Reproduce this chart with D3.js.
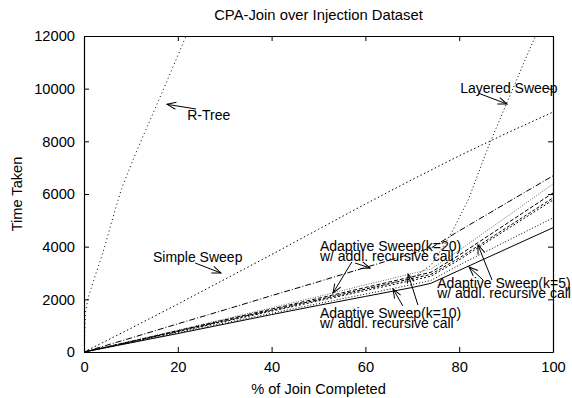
<!DOCTYPE html>
<html>
<head>
<meta charset="utf-8">
<script src="https://cdn.jsdelivr.net/npm/d3@7"></script>
<style>
body { margin: 0; background: #fff; }
svg { font-family: "Liberation Sans", Arial, sans-serif; }
.axis path, .axis line { stroke: #000; }
.axis text { font-size: 14.7px; fill: #000; }
</style>
</head>
<body>
<svg id="chart" width="572" height="398"></svg>
<script>
// values
var pct = [0, 10, 20, 30, 40, 50, 60, 70, 74, 80, 90, 100];

var rtreeX = [0, 0.3, 0.8, 2, 4, 6, 8, 10, 12, 17, 22, 25];
var rtreeY = [0, 1500, 2000, 2700, 3750, 5000, 6200, 7100, 7950, 10000, 12100, 13400];

var layeredX = [0, 10, 20, 30, 40, 50, 60, 70, 74, 78, 82, 86, 90, 96, 100];
var layeredY = [0, 390, 790, 1180, 1580, 1980, 2380, 2800, 3300, 4400, 5800, 7700, 9400, 11900, 13500];

var simpleX = [0, 10, 20, 30, 40, 50, 60, 70, 80, 90, 100];
var simpleY = [0, 900, 1820, 2760, 3700, 4660, 5620, 6550, 7450, 8300, 9110];

var adaptK5R  = [0, 350, 700, 1060, 1420, 1770, 2110, 2450, 2610, 3100, 3910, 4720];
var adaptK5   = [0, 360, 730, 1100, 1470, 1840, 2200, 2560, 2720, 3300, 4200, 5090];
var adaptK10R = [0, 380, 770, 1160, 1550, 1940, 2330, 2720, 2880, 3500, 4640, 5770];
var adaptK10  = [0, 390, 790, 1190, 1590, 1990, 2390, 2790, 2950, 3570, 4710, 5850];
var adaptK20R = [0, 400, 810, 1220, 1630, 2040, 2450, 2860, 3030, 3680, 4860, 6040];
var adaptK20  = [0, 410, 830, 1250, 1680, 2110, 2550, 2980, 3150, 3860, 5120, 6380];
var adaptive  = [0, 530, 1070, 1600, 2140, 2670, 3210, 3740, 3950, 4600, 5650, 6690];

var xTicks = [0, 20, 40, 60, 80, 100];
var yTicks = [0, 2000, 4000, 6000, 8000, 10000, 12000];

var series = [
	{xs: rtreeX, ys: rtreeY, dash: "1,3", color: "#000"},
	{xs: simpleX, ys: simpleY, dash: "1.5,2.5", color: "#000"},
	{xs: layeredX, ys: layeredY, dash: "1,2.5", color: "#000"},
	{xs: pct, ys: adaptive, dash: "6,2,1,2", color: "#000"},
	{xs: pct, ys: adaptK20, dash: "1,1.5", color: "#666"},
	{xs: pct, ys: adaptK20R, dash: "4,2", color: "#000"},
	{xs: pct, ys: adaptK10, dash: "3,2", color: "#000"},
	{xs: pct, ys: adaptK10R, dash: "2,2", color: "#000"},
	{xs: pct, ys: adaptK5, dash: "1,2", color: "#000"},
	{xs: pct, ys: adaptK5R, dash: null, color: "#000"}
];

// labels: text lines, x and first baseline in data units
var labels = [
	{lines: ["R-Tree"], x: 22, y: 8810},
	{lines: ["Layered Sweep"], x: 80.2, y: 9834},
	{lines: ["Simple Sweep"], x: 14.7, y: 3417},
	{lines: ["Adaptive Sweep(k=20)", "w/ addl. recursive call"], x: 50.3, y: 3835},
	{lines: ["Adaptive Sweep(k=10)", "w/ addl. recursive call"], x: 50.3, y: 1291},
	{lines: ["Adaptive Sweep(k=5)", "w/ addl. recursive call"], x: 75.3, y: 2430}
];
var arrows = [
	[23.9, 9227, 17.7, 9405],
	[84.0, 9834, 90.2, 9417],
	[23.7, 3379, 29.2, 3000],
	[57.1, 3417, 53.1, 2240],
	[57.8, 3379, 61.0, 3189],
	[68.0, 1747, 65.9, 2392],
	[71.2, 1785, 69.1, 2962],
	[85.1, 2734, 82.1, 3227],
	[87.0, 2734, 84.0, 4063]
];

const svg = d3.select("#chart"),
	margin = {top: 36, right: 19, bottom: 46, left: 84},
	width = +svg.attr("width") - margin.left - margin.right,
	height = +svg.attr("height") - margin.top - margin.bottom,
	x = d3.scaleLinear().domain([0, 100]).range([0, width]),
	y = d3.scaleLinear().domain([0, 12000]).range([height, 0]),
	g = svg.append("g")
		.attr("transform", `translate(${margin.left},${margin.top})`);

svg.append("defs").append("clipPath").attr("id", "clip")
	.append("rect").attr("width", width).attr("height", height);

svg.select("defs").append("marker")
	.attr("id", "head")
	.attr("viewBox", "-10 -5 12 10")
	.attr("markerWidth", 12).attr("markerHeight", 10)
	.attr("markerUnits", "userSpaceOnUse")
	.attr("orient", "auto")
	.append("path")
	.attr("d", "M-9,-3.5L0,0L-9,3.5")
	.attr("fill", "none").attr("stroke", "#000").attr("stroke-width", 1);

// title and axis labels
svg.append("text").attr("x", margin.left + width / 2).attr("y", 20)
	.attr("text-anchor", "middle").style("font-size", "14.8px")
	.text("CPA-Join over Injection Dataset");
svg.append("text").attr("x", margin.left + width / 2).attr("y", 394)
	.attr("text-anchor", "middle").style("font-size", "14.6px")
	.text("% of Join Completed");
svg.append("text").attr("transform", "translate(22,194) rotate(-90)")
	.attr("text-anchor", "middle").style("font-size", "14.6px")
	.text("Time Taken");

// axes (gnuplot style: ticks inward, mirrored)
g.append("g").attr("class", "axis axis-x")
	.attr("transform", `translate(0,${height})`)
	.call(d3.axisBottom(x).tickValues(xTicks).tickSize(-5).tickPadding(10).tickSizeOuter(0));
g.append("g").attr("class", "axis axis-x2")
	.call(d3.axisTop(x).tickValues(xTicks).tickSize(-5).tickSizeOuter(0).tickFormat(""));
g.append("g").attr("class", "axis axis-y")
	.call(d3.axisLeft(y).tickValues(yTicks).tickSize(-5).tickPadding(9).tickSizeOuter(0).tickFormat(d3.format("d")));
g.append("g").attr("class", "axis axis-y2")
	.attr("transform", `translate(${width},0)`)
	.call(d3.axisRight(y).tickValues(yTicks).tickSize(-5).tickSizeOuter(0).tickFormat(""));
g.selectAll(".axis path").attr("stroke-width", 1.2);

const line = d3.line().x(d => x(d[0])).y(d => y(d[1]));

g.append("g").attr("clip-path", "url(#clip)")
	.selectAll(".series")
	.data(series)
	.enter().append("path")
	.attr("class", "series")
	.attr("fill", "none")
	.attr("stroke", d => d.color)
	.attr("stroke-width", 1)
	.attr("stroke-dasharray", d => d.dash)
	.attr("d", d => line(d.xs.map((v, i) => [v, d.ys[i]])));

// annotations
g.selectAll(".arrow")
	.data(arrows)
	.enter().append("line")
	.attr("class", "arrow")
	.attr("x1", d => x(d[0])).attr("y1", d => y(d[1]))
	.attr("x2", d => x(d[2])).attr("y2", d => y(d[3]))
	.attr("stroke", "#000").attr("stroke-width", 1)
	.attr("marker-end", "url(#head)");

const lab = g.selectAll(".label")
	.data(labels)
	.enter().append("text")
	.attr("class", "label")
	.style("font-size", "14px")
	.attr("x", d => x(d.x)).attr("y", d => y(d.y));
lab.selectAll("tspan")
	.data(d => d.lines.map((t, i) => ({t: t, i: i, x: d.x})))
	.enter().append("tspan")
	.attr("x", d => x(d.x))
	.attr("dy", d => d.i ? 10 : 0)
	.text(d => d.t);
</script>
</body>
</html>
